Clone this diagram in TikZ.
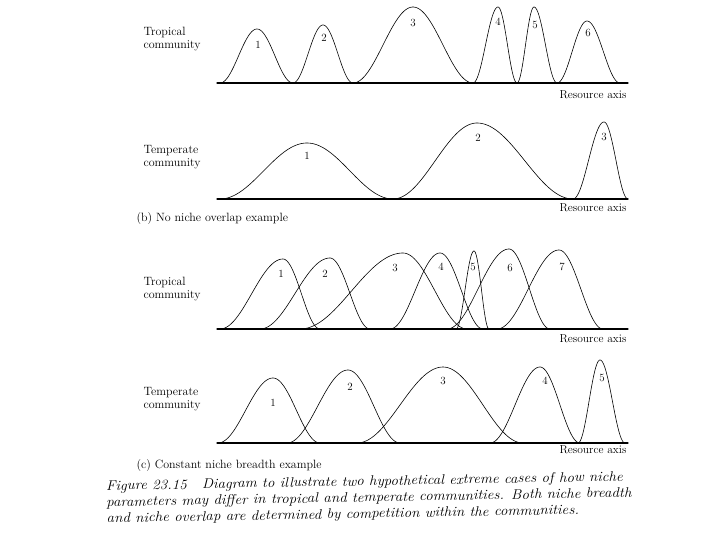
\documentclass[tikz,border=0pt]{standalone}
\begin{document}
\begin{tikzpicture}[x=1pt,y=-1pt, line join=round, line cap=round,
	declare function={niche(\t)=(1+cos(180*\t))/2;},
	curve/.style={line width=0.6pt},
	axis/.style={line width=1.1pt},
	lab/.style={font=\fontsize{12}{13}\selectfont, align=left, anchor=west},
	num/.style={font=\fontsize{11}{12}\selectfont},
	axlab/.style={font=\fontsize{11.5}{12}\selectfont, anchor=east},
	caption/.style={font=\fontsize{14}{16.2}\selectfont\itshape, align=left, anchor=north west, xscale=1.075}]
	\fill[white] (0,0) rectangle (720,540);
	\useasboundingbox (0,0) rectangle (720,540);
	% (a) tropical, no overlap
	\def\ya{83}
	\coordinate (axA-l) at (217,\ya); \coordinate (axA-r) at (628,\ya);
	\draw[axis] (axA-l) -- (axA-r);
	\foreach \cx/\wl/\wr/\pk/\idx/\lx/\ly in {257/37/36/29/1/258/45, 323/30/30/25/2/324/38,
		413/60/60/7/3/413/23, 498/25/19/7/4/498/22, 534/17/23/7/5/535/25, 587/30/33/21/6/588/33}{
		\draw[curve] plot[domain=\cx-\wl:\cx+\wr, samples=70] (\x,{\ya-(\ya-\pk)*niche((\x-\cx)/((\x<\cx)?\wl:\wr))});
		\node[num] (tropA-\idx) at (\lx,\ly) {\idx};
	}
	\node[lab] (tropA-name) at (140,39) {Tropical\\community};
	\node[axlab] (axA-name) at (630,95) {Resource axis};
	% (b) temperate, no overlap
	\def\yb{199}
	\coordinate (axB-l) at (217,\yb); \coordinate (axB-r) at (628,\yb);
	\draw[axis] (axB-l) -- (axB-r);
	\foreach \cx/\wl/\wr/\pk/\idx/\lx/\ly in {307/87/86/143/1/307/156, 477/84/96/123/2/478/138,
		604/31/24/122/3/604/137}{
		\draw[curve] plot[domain=\cx-\wl:\cx+\wr, samples=90] (\x,{\yb-(\yb-\pk)*niche((\x-\cx)/((\x<\cx)?\wl:\wr))});
		\node[num] (tempB-\idx) at (\lx,\ly) {\idx};
	}
	\node[lab] (tempB-name) at (140,157) {Temperate\\community};
	\node[axlab] (axB-name) at (630,208) {Resource axis};
	\node[lab] (capB) at (133,219) {(b) No niche overlap example};
	% (c) tropical, constant breadth
	\def\yc{329}
	\coordinate (axC-l) at (217,\yc); \coordinate (axC-r) at (628,\yc);
	\draw[axis] (axC-l) -- (axC-r);
	\foreach \cx/\wl/\wr/\pk/\idx/\lx/\ly in {283/63/37/259/1/281/274, 330/70/40/258/2/325/274,
		403/103/64/253/3/395/268, 440/50/43/253/4/441/267, 474/18/15/251/5/473/267,
		509/62/41/249/6/510/268, 559/62/44/250/7/562/267}{
		\draw[curve] plot[domain=\cx-\wl:\cx+\wr, samples=90] (\x,{\yc-(\yc-\pk)*niche((\x-\cx)/((\x<\cx)?\wl:\wr))});
		\node[num] (tropC-\idx) at (\lx,\ly) {\idx};
	}
	\node[lab] (tropC-name) at (140,289) {Tropical\\community};
	\node[axlab] (axC-name) at (630,339) {Resource axis};
	% (d) temperate, constant breadth
	\def\yd{443}
	\coordinate (axD-l) at (217,\yd); \coordinate (axD-r) at (628,\yd);
	\draw[axis] (axD-l) -- (axD-r);
	\foreach \cx/\wl/\wr/\pk/\idx/\lx/\ly in {273/55/47/378/1/273/403, 348/61/52/370/2/350/387,
		443/86/80/367/3/443/381, 540/50/40/367/4/545/381, 600/22/25/360/5/602/378}{
		\draw[curve] plot[domain=\cx-\wl:\cx+\wr, samples=90] (\x,{\yd-(\yd-\pk)*niche((\x-\cx)/((\x<\cx)?\wl:\wr))});
		\node[num] (tempD-\idx) at (\lx,\ly) {\idx};
	}
	\node[lab] (tempD-name) at (140,399) {Temperate\\community};
	\node[axlab] (axD-name) at (630,450) {Resource axis};
	\node[lab] (capD) at (133,466) {(c) Constant niche breadth example};
	% figure caption
	\node[caption, rotate=1.1] (fig-caption) at (102,477) {Figure 23.15\quad Diagram to illustrate two hypothetical extreme cases of how niche\\
		parameters may differ in tropical and temperate communities. Both niche breadth\\
		and niche overlap are determined by competition within the communities.};
\end{tikzpicture}
\end{document}
